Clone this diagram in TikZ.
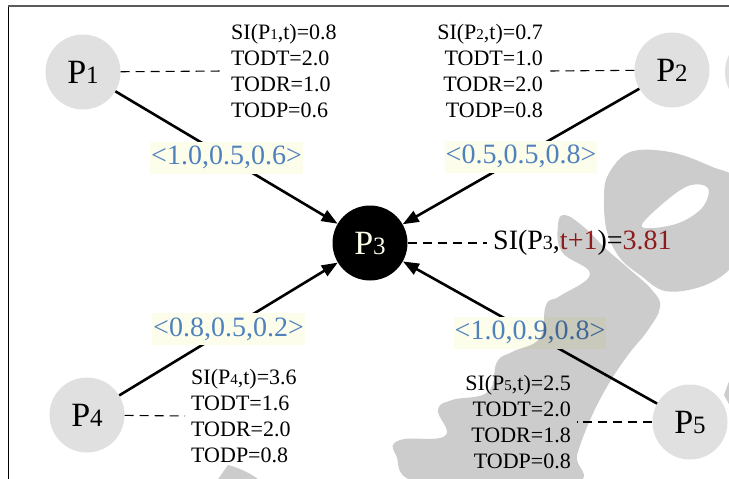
\documentclass[tikz,border=0pt]{standalone}
\usepackage{fontspec}
\setmainfont{Liberation Serif}
\usepackage{xcolor}
\usetikzlibrary{arrows.meta}

\definecolor{nodegray}{RGB}{224,224,224}
\definecolor{markgray}{RGB}{204,204,204}
\definecolor{tuple}{RGB}{79,129,189}
\definecolor{tuplebg}{RGB}{253,253,236}
\definecolor{sired}{RGB}{178,34,34}
\definecolor{framegray}{RGB}{90,90,90}

\newcommand{\pname}[1]{{\fontsize{34}{34}\selectfont P}{\fontsize{25}{25}\selectfont #1}}
\newcommand{\psub}[1]{{\fontsize{15}{15}\selectfont #1}}

\begin{document}
\begin{tikzpicture}[x=1pt,y=1pt,
  peer/.style={circle,fill=nodegray,minimum size=75pt,inner sep=0pt},
  target/.style={circle,fill=black,text=tuplebg,minimum size=75pt,inner sep=0pt},
  info/.style={inner sep=6pt,font=\fontsize{22}{26.3}\selectfont},
  tuplelbl/.style={fill=tuplebg,text=tuple,inner xsep=1pt,inner ysep=0pt,minimum height=32pt,font=\fontsize{28}{28}\selectfont},
  link/.style={line width=2.6pt,-{Triangle[length=16pt,width=12pt]}},
  lead/.style={line width=1.1pt,dash pattern=on 9pt off 6pt}]
  \useasboundingbox (0,0) rectangle (729,-479);
  \clip (0,0) rectangle (729,-479);
  \fill[white] (0,0) rectangle (729,-479);
  \draw[black,line width=1pt] (8,-5) -- (8,-479);
  \draw[framegray,line width=1.5pt] (8,-6) -- (729,-6);
  \fill[nodegray] (763,-72) circle (38);

  \node[peer] (p1) at (83,-72) {\pname{1}};
  \node[peer] (p2) at (672,-70) {\pname{2}};
  \node[target] (p3) at (370,-243) {\pname{3}};
  \node[peer] (p4) at (87,-415) {\pname{4}};
  \node[peer] (p5) at (690,-422) {\pname{5}};

  \node[info,anchor=west,align=left] (i1) at (225,-71) {SI(P\psub{1},t)=0.8\\TODT=2.0\\TODR=1.0\\TODP=0.6};
  \node[info,anchor=east,align=right] (i2) at (549,-71) {SI(P\psub{2},t)=0.7\\TODT=1.0\\TODR=2.0\\TODP=0.8};
  \node[anchor=west,inner sep=6pt,font=\fontsize{28}{28}\selectfont] (s3) at (487,-243) {SI(P{\fontsize{20}{20}\selectfont 3},\textcolor{sired}{t+1})=\textcolor{sired}{3.81}};
  \node[info,anchor=west,align=left] (i4) at (185,-416) {SI(P\psub{4},t)=3.6\\TODT=1.6\\TODR=2.0\\TODP=0.8};
  \node[info,anchor=east,align=right] (i5) at (577,-422) {SI(P\psub{5},t)=2.5\\TODT=2.0\\TODR=1.8\\TODP=0.8};

  \draw[lead] (p1) -- (i1.west);
  \draw[lead] (p2) -- (i2.east);
  \draw[lead] (p3) -- (s3.west);
  \draw[lead] (p4) -- (i4.west);
  \draw[lead] (p5) -- (i5.east);

  \draw[link] (p1) -- node[tuplelbl] {<1.0,0.5,0.6>} (p3);
  \draw[link] (p2) -- node[tuplelbl] {<0.5,0.5,0.8>} (p3);
  \draw[link] (p4) -- node[tuplelbl] {<0.8,0.5,0.2>} (p3);
  \draw[link] (p5) -- node[tuplelbl] {<1.0,0.9,0.8>} (p3);

  \begin{scope}[blend mode=multiply]
    \fill[markgray,even odd rule]
      plot[smooth cycle,tension=0.6] coordinates {(608,-175) (630,-152) (670,-152) (710,-166) (745,-185) (748,-240) (729,-270) (700,-287) (665,-291) (640,-275) (620,-258) (607,-232) (604,-200)}
      plot[smooth cycle,tension=0.6] coordinates {(642,-227) (660,-206) (688,-186) (708,-188) (702,-208) (676,-224)};
    \fill[markgray] plot[smooth cycle,tension=0.7] coordinates {(565,-215) (585,-228) (605,-248) (628,-268) (652,-290) (660,-307) (648,-330) (628,-355) (608,-385) (590,-420) (577,-455) (570,-484) (425,-484) (396,-455) (400,-440) (445,-436) (438,-410) (452,-400) (488,-392) (497,-362) (512,-352) (540,-338) (546,-305) (560,-296) (590,-274) (562,-252) (558,-225)};
    \fill[markgray] (228,-465) .. controls (240,-468) and (252,-474) .. (262,-482) -- (216,-482) -- cycle;
    \fill[markgray] (724,-395) -- (731,-376) -- (731,-408) -- cycle;
  \end{scope}
\end{tikzpicture}
\end{document}
